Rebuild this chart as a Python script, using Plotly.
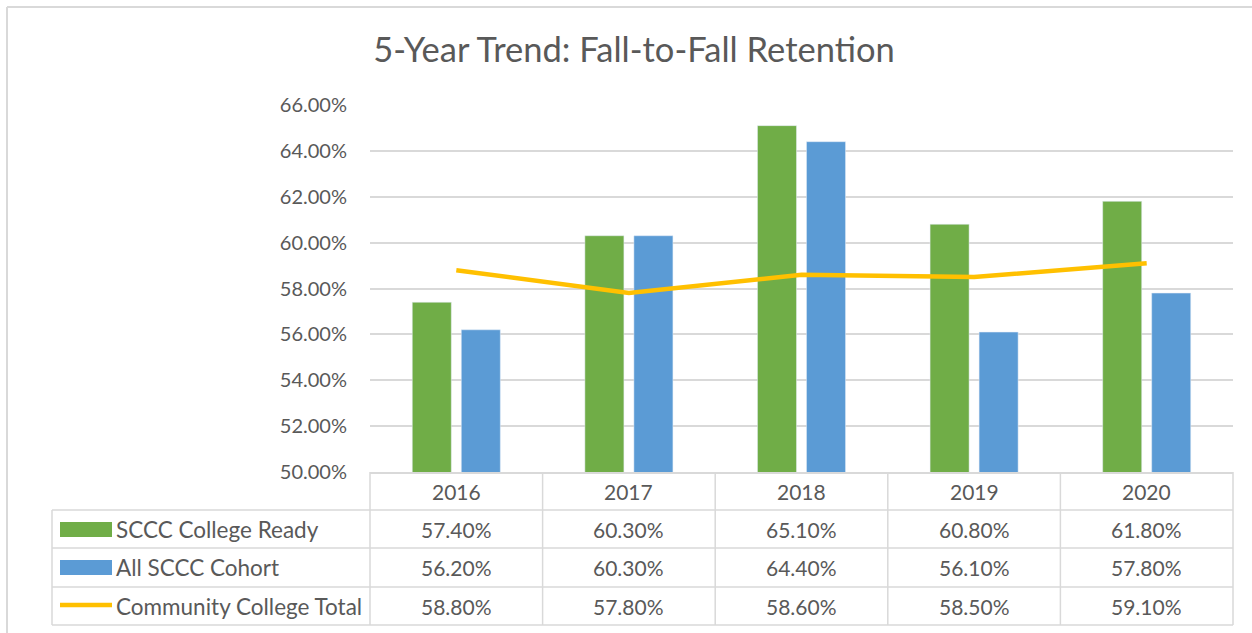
import plotly.graph_objects as go

years = ["2016", "2017", "2018", "2019", "2020"]
college_ready = [0.574, 0.603, 0.651, 0.608, 0.618]
all_cohort = [0.562, 0.603, 0.644, 0.561, 0.578]
cc_total = [0.588, 0.578, 0.586, 0.585, 0.591]
series_names = ["SCCC College Ready", "All SCCC Cohort", "Community College Total"]
tick_vals = [0.50, 0.52, 0.54, 0.56, 0.58, 0.60, 0.62, 0.64, 0.66]

W, H = 1252, 633
FONT = "Lato"
TXT = "#595959"
GRID = "#D9D9D9"
GREEN = "#70AD47"
BLUE = "#5B9BD5"
YELLOW = "#FFC000"

def px(x):
    return x / W

def py(y):
    return 1 - y / H

x0, x1 = 370, 1233
ytop, ybot = 105, 472

fig = go.Figure()
fig.add_trace(go.Bar(x=years, y=college_ready, name=series_names[0], marker_color=GREEN))
fig.add_trace(go.Bar(x=years, y=all_cohort, name=series_names[1], marker_color=BLUE))
fig.add_trace(go.Scatter(x=years, y=cc_total, name=series_names[2], mode="lines",
                         line=dict(color=YELLOW, width=4.5)))

shapes = []
annotations = []
line_style = dict(color=GRID, width=1.5)

row_y = [472, 510, 548, 587, 625]
for i, yv in enumerate(row_y):
    if i == 0:
        continue
    shapes.append(dict(type="line", xref="paper", yref="paper", x0=px(52), x1=px(x1),
                       y0=py(yv), y1=py(yv), line=line_style))
col_w = (x1 - x0) / len(years)
for k in range(len(years) + 1):
    xv = x0 + k * col_w
    shapes.append(dict(type="line", xref="paper", yref="paper", x0=px(xv), x1=px(xv),
                       y0=py(472), y1=py(625), line=line_style))
shapes.append(dict(type="line", xref="paper", yref="paper", x0=px(52), x1=px(52),
                   y0=py(510), y1=py(625), line=line_style))
# outer chart border
shapes.append(dict(type="line", xref="paper", yref="paper", x0=px(7), x1=px(1252),
                   y0=py(7), y1=py(7), line=dict(color=GRID, width=2)))
shapes.append(dict(type="line", xref="paper", yref="paper", x0=px(7), x1=px(7),
                   y0=py(7), y1=py(633), line=dict(color=GRID, width=2)))

NUM_SIZE = 21
for k, yr in enumerate(years):
    annotations.append(dict(xref="paper", yref="paper", x=px(x0 + (k + 0.5) * col_w), y=py(491),
                            text=yr, showarrow=False, font=dict(family=FONT, size=NUM_SIZE, color=TXT),
                            xanchor="center", yanchor="middle"))
rows = [college_ready, all_cohort, cc_total]
row_centers = [529, 567, 606]
for r, vals in enumerate(rows):
    for k, v in enumerate(vals):
        annotations.append(dict(xref="paper", yref="paper", x=px(x0 + (k + 0.5) * col_w),
                                y=py(row_centers[r]), text=f"{v*100:.2f}%", showarrow=False,
                                font=dict(family=FONT, size=NUM_SIZE, color=TXT),
                                xanchor="center", yanchor="middle"))
    annotations.append(dict(xref="paper", yref="paper", x=px(114), y=py(row_centers[r]),
                            text=series_names[r], showarrow=False,
                            font=dict(family=FONT, size=22.5, color=TXT),
                            xanchor="left", yanchor="middle"))

shapes.append(dict(type="rect", xref="paper", yref="paper", x0=px(60), x1=px(112),
                   y0=py(537), y1=py(522), fillcolor=GREEN, line=dict(width=0)))
shapes.append(dict(type="rect", xref="paper", yref="paper", x0=px(60), x1=px(112),
                   y0=py(575), y1=py(560), fillcolor=BLUE, line=dict(width=0)))
shapes.append(dict(type="line", xref="paper", yref="paper", x0=px(60), x1=px(112),
                   y0=py(605), y1=py(605), line=dict(color=YELLOW, width=4.5)))

fig.update_layout(
    width=W, height=H,
    margin=dict(l=0, r=0, t=0, b=0, autoexpand=False),
    paper_bgcolor="white", plot_bgcolor="white",
    showlegend=False,
    barmode="group", bargap=0.432, bargroupgap=0.204,
    title=dict(text="5-Year Trend: Fall-to-Fall Retention", x=px(634), xanchor="center",
               y=py(50), yanchor="middle", font=dict(family=FONT, size=34.5, color=TXT)),
    xaxis=dict(domain=[px(x0), px(x1)], showticklabels=False, showgrid=False, automargin=False,
               showline=True, linecolor=GRID, linewidth=1.5, ticks=""),
    yaxis=dict(domain=[py(ybot), py(ytop)], range=[0.50, 0.66], tickvals=tick_vals,
               tickformat=".2%", showgrid=True, gridcolor=GRID, gridwidth=1.5, automargin=False,
               zeroline=False, showline=False, ticks="", ticklabelstandoff=22,
               tickfont=dict(family=FONT, size=20, color=TXT)),
    shapes=shapes, annotations=annotations,
)

fig.write_html("out.html", config={"displayModeBar": False},
               post_script="document.body.style.margin='0';document.body.style.overflow='hidden';")
